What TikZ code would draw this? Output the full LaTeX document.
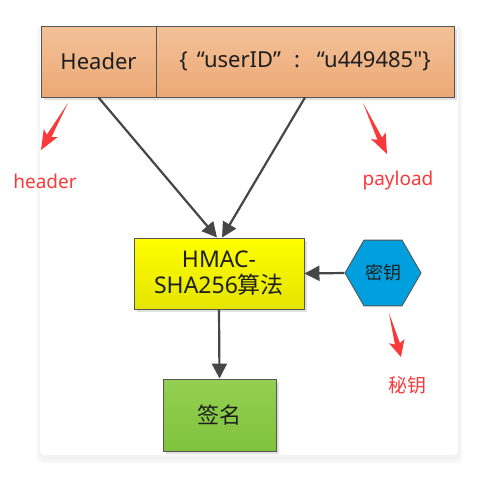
\documentclass[tikz,border=0pt]{standalone}
\usepackage{fontspec}
\setmainfont{Noto Sans}
\newfontfamily\cjk{Noto Sans CJK SC}
\usetikzlibrary{arrows.meta,calc,shapes.geometric}
\definecolor{boxline}{RGB}{85,85,85}
\definecolor{flowline}{RGB}{70,70,70}
\definecolor{hdrtop}{RGB}{243,194,152}
\definecolor{hdrbot}{RGB}{236,168,118}
\definecolor{algtop}{RGB}{255,255,0}
\definecolor{algbot}{RGB}{228,228,0}
\definecolor{sigtop}{RGB}{148,208,82}
\definecolor{sigbot}{RGB}{128,194,60}
\definecolor{keyfill}{RGB}{0,160,222}
\definecolor{notered}{RGB}{250,58,58}
\definecolor{boxtext}{RGB}{30,30,30}

% tapered red pointer from #1 to #2
\newcommand\spear[2]{%
  \fill[notered] (#1) -- ($(#1)!0.70!(#2)!2.6pt!90:(#2)$)
    -- ($(#1)!0.64!(#2)!8pt!90:(#2)$) -- (#2)
    -- ($(#1)!0.64!(#2)!8pt!-90:(#2)$)
    -- ($(#1)!0.70!(#2)!2.6pt!-90:(#2)$) -- cycle;}
\newcommand\plainquote{{\addfontfeatures{Ligatures=TeXOff}"}}

\begin{document}
\begin{tikzpicture}[
  x=1pt, y=-1pt,
  >={Triangle[length=15pt,width=15pt]},
  shade/.style={preaction={fill=black!12, transform canvas={shift={(3pt,-3pt)}}}},
  box/.style={shade, draw=boxline, line width=0.9pt, inner sep=0pt,
              text=boxtext, align=center},
  topbox/.style={box, top color=hdrtop, bottom color=hdrbot,
                 minimum height=71pt, font=\fontsize{22}{24}\selectfont},
  algbox/.style={box, top color=algtop, bottom color=algbot,
                 minimum width=170pt, minimum height=71pt,
                 font=\fontsize{23}{26}\selectfont},
  sigbox/.style={box, top color=sigtop, bottom color=sigbot,
                 minimum width=113pt, minimum height=72pt,
                 font=\cjk\fontsize{22}{24}\selectfont},
  keybox/.style={regular polygon, regular polygon sides=6, draw=boxline,
                 line width=0.9pt, fill=keyfill, inner sep=0pt,
                 minimum size=76pt, text=boxtext,
                 font=\cjk\fontsize{18}{20}\selectfont},
  flow/.style={->, draw=flowline, line width=2.2pt},
  note/.style={text=notered, font=\fontsize{19}{22}\selectfont}
]
\useasboundingbox (0,0) rectangle (504,483);
\fill[white] (0,0) rectangle (504,483);

% card
\fill[black!3, rounded corners=6pt] (37,26) rectangle (462,463);
\fill[black!5, rounded corners=5pt] (39,26) rectangle (460,459);
\fill[white, rounded corners=4pt] (40,25) rectangle (458,455);

% token parts
\node[topbox, minimum width=115pt] (hdr) at (98.5,61.5) {Header};
\node[topbox, minimum width=298pt] (pld) at (305,61.5)
  {\{\hspace{9pt}“userID”\hspace{13pt}:\hspace{17pt}“u449485\plainquote\}};

% signing
\node[algbox] (alg) at (219,273.5) {HMAC-\\SHA256{\cjk 算法}};
\node[keybox] (key) at (383,273) {密钥};
\node[sigbox] (sig) at (219.5,415) {签名};

\draw[flow] (hdr.south) -- ($(alg.north)+(-2,0)$);
\draw[flow] (pld.south) -- ($(alg.north)+(3,0)$);
\draw[flow] (key.west) -- (alg.east);
\draw[flow] (alg.south) -- (sig.north);

% red notes
\coordinate (hdrtail) at (68,103);
\coordinate (hdrtip) at (41,150);
\coordinate (pldtail) at (363,103);
\coordinate (pldtip) at (387,154);
\coordinate (keytail) at (389,313);
\coordinate (keytip) at (401,357);
\spear{hdrtail}{hdrtip}
\spear{pldtail}{pldtip}
\spear{keytail}{keytip}
\node[note] (hdrnote) at (45,181) {header};
\node[note] (pldnote) at (398,181) {payload};
\node[note, font=\cjk\fontsize{19}{22}\selectfont] (keynote) at (407,385) {秘钥};
\end{tikzpicture}
\end{document}
